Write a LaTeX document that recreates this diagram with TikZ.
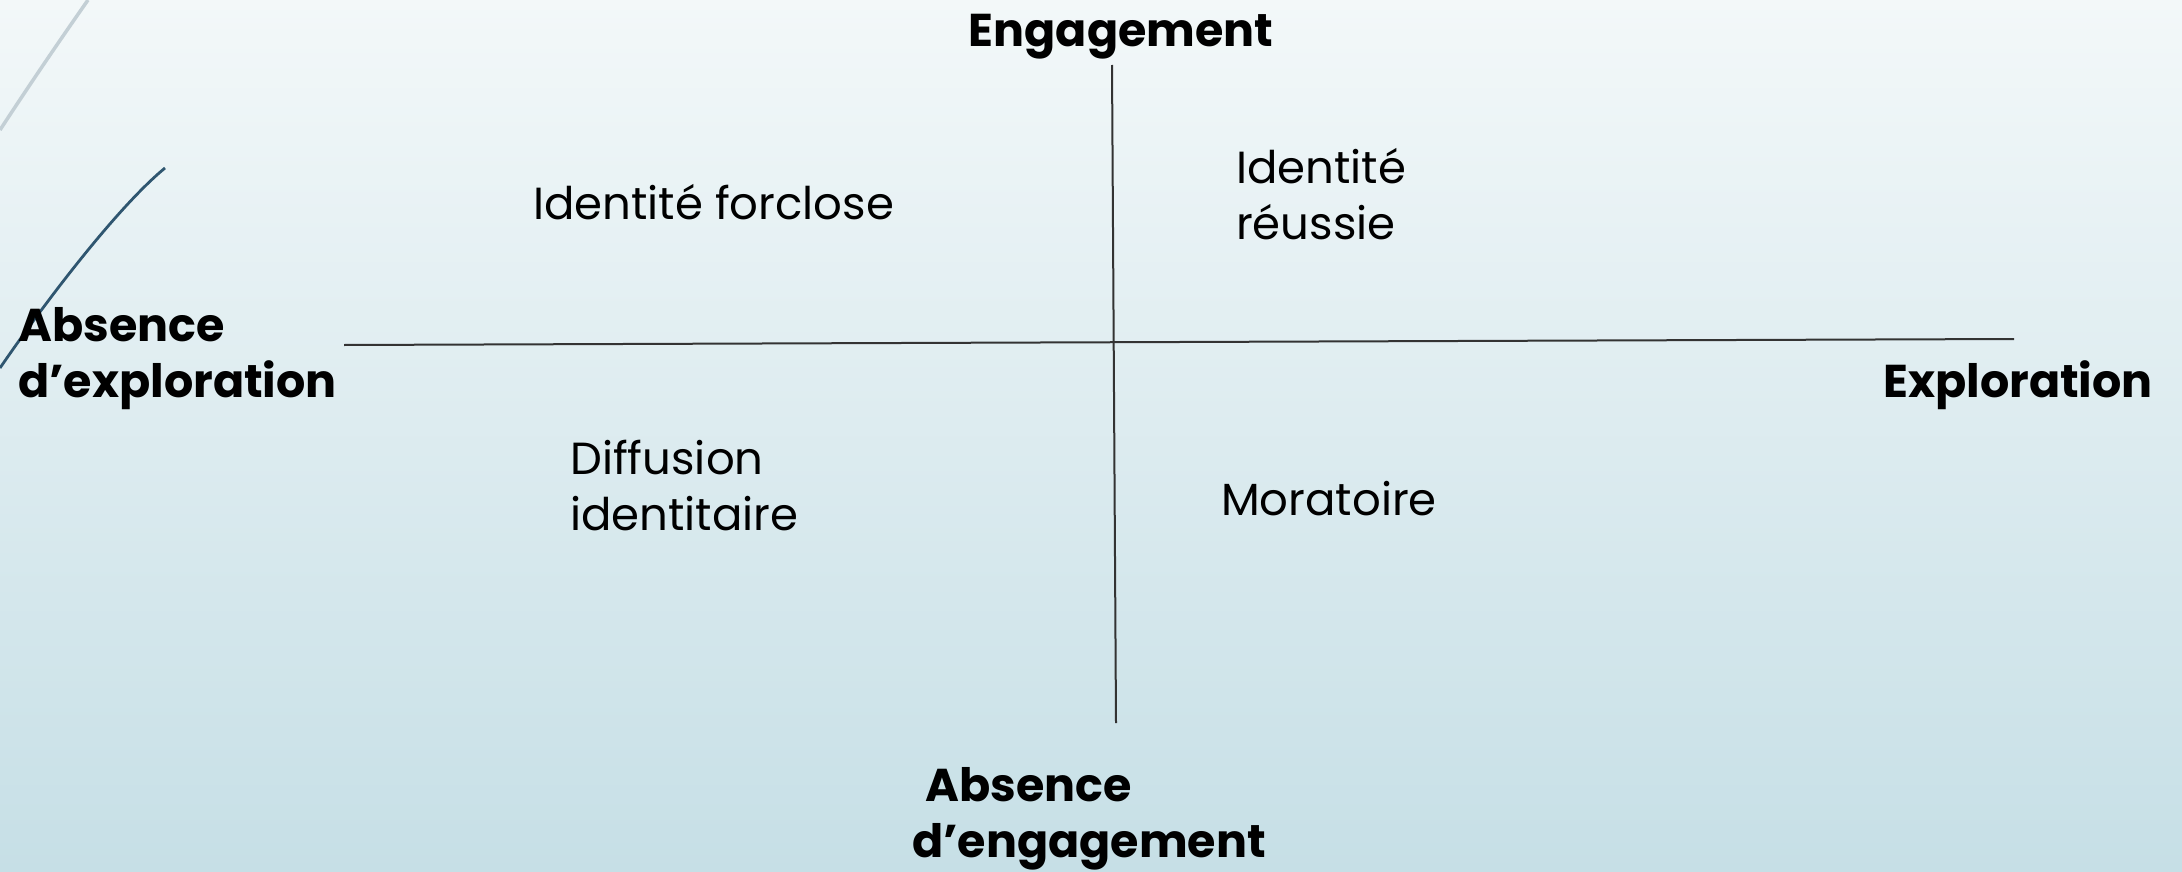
\documentclass[tikz,border=0pt]{standalone}
\usepackage{fontspec}
\setmainfont{Poppins}
\definecolor{bgtop}{HTML}{F3F8F9}
\definecolor{bgbot}{HTML}{C6DFE6}
\definecolor{axiscol}{HTML}{333333}
\definecolor{swooshdark}{HTML}{2F5670}
\definecolor{swooshlight}{HTML}{C3CFD5}
\tikzset{
  axislabel/.style={inner sep=0pt, font=\bfseries\fontsize{46}{56}\selectfont, align=left},
  quadlabel/.style={inner sep=0pt, font=\fontsize{45}{56}\selectfont, align=left},
  axisline/.style={draw=axiscol, line width=2pt},
}
\begin{document}
\begin{tikzpicture}[x=1pt,y=-1pt]
\shade[top color=bgtop, bottom color=bgbot] (0,0) rectangle (2182,872);
\useasboundingbox (0,0) rectangle (2182,872);
% decorative swooshes
\draw[swooshlight, line width=3.5pt] (0,130) .. controls (30,84) and (60,40) .. (88,0);
\draw[swooshdark, line width=2.8pt] (0,368) .. controls (50,295) and (120,205) .. (165,168);
% axes
\coordinate (hl) at (344,345);
\coordinate (hr) at (2014,339);
\coordinate (vt) at (1112,65);
\coordinate (vb) at (1116,723);
\draw[axisline] (hl) -- (hr);
\draw[axisline] (vt) -- (vb);
% axis labels (base anchor = baseline of last line)
\node[axislabel, anchor=base] (eng) at (1121,47) {Engagement};
\node[axislabel, anchor=base west] (absexp) at (18,397) {Absence\\d’exploration};
\node[axislabel, anchor=base east] (expl) at (2153,397) {Exploration};
\node[axislabel, anchor=base west] (abseng) at (912,857) {\hspace*{13pt}Absence\\d’engagement};
% quadrant labels
\node[quadlabel, anchor=base west] (forc) at (533,219) {Identité forclose};
\node[quadlabel, anchor=base west] (reus) at (1236,239) {Identité\\réussie};
\node[quadlabel, anchor=base west] (diff) at (570,530) {Diffusion\\identitaire};
\node[quadlabel, anchor=base west] (mora) at (1221,515) {Moratoire};
\end{tikzpicture}
\end{document}
